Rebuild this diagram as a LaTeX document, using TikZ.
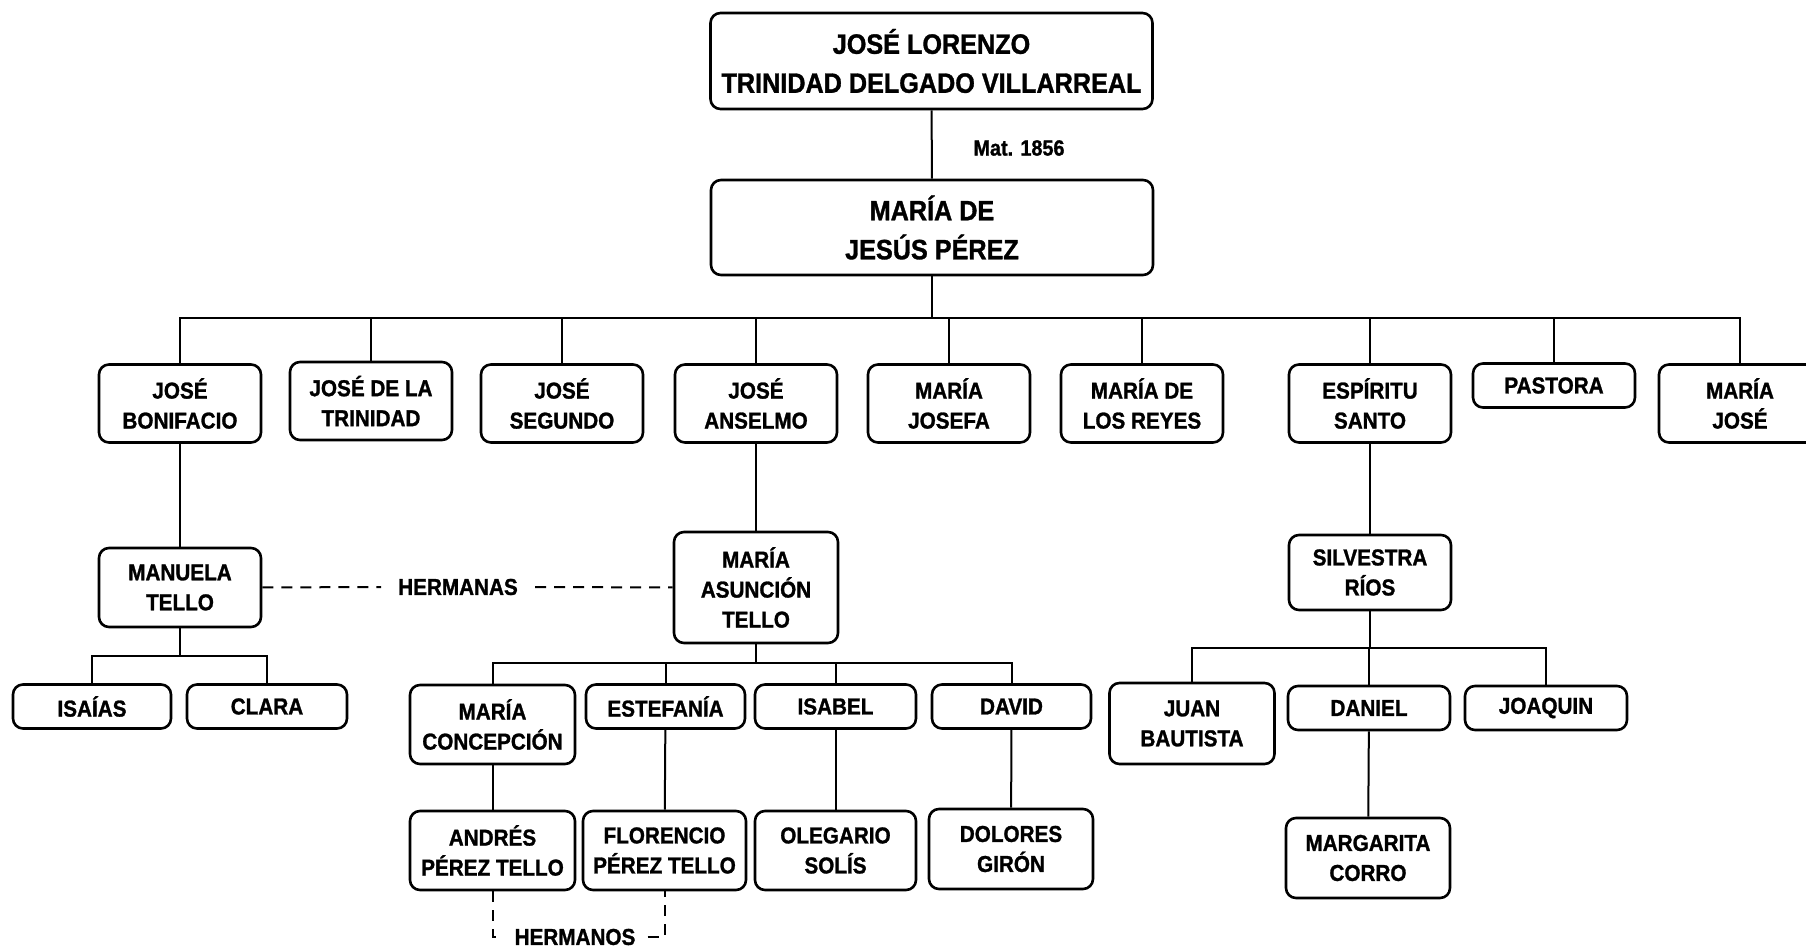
\documentclass[tikz,border=0pt]{standalone}
\usepackage{fontspec}
\setmainfont{Liberation Sans}[FakeStretch=0.9, BoldFeatures={FakeBold=1.2}]
\begin{document}
\begin{tikzpicture}[x=1pt,y=-1pt,
  person/.style={draw, line width=2.6pt, rounded corners=10pt, align=center,
    font=\fontsize{23}{30}\selectfont\bfseries, minimum width=162pt, inner sep=0pt},
  two/.style={minimum height=78pt},
  one/.style={minimum height=44pt},
  three/.style={minimum height=111pt},
  big/.style={font=\fontsize{28}{39}\selectfont\bfseries, minimum width=442pt, minimum height=96pt},
  link/.style={line width=2pt},
  sib/.style={line width=2pt, dash pattern=on 11pt off 8pt},
  lbl/.style={font=\fontsize{23}{28}\selectfont\bfseries, inner ysep=2pt}
]
\useasboundingbox (0,0) rectangle (1806,949);

% generation 0
\node[person,big] (top) at (931.5,61) {JOSÉ LORENZO\\TRINIDAD DELGADO VILLARREAL};
\node[person,big,minimum height=95pt] (mother) at (932,227.5) {MARÍA DE\\JESÚS PÉREZ};
\draw[link] (top) -- (mother);
\node[font=\fontsize{22}{26}\selectfont\bfseries, inner sep=0pt] (mat) at (1019,148) {Mat. 1856};

% generation 1
\coordinate (bar) at (932,318);
\node[person,two] (c1) at (180,403.5) {JOSÉ\\BONIFACIO};
\node[person,two] (c2) at (371,401) {JOSÉ DE LA\\TRINIDAD};
\node[person,two] (c3) at (562,403.5) {JOSÉ\\SEGUNDO};
\node[person,two] (c4) at (756,403.5) {JOSÉ\\ANSELMO};
\node[person,two] (c5) at (949,403.5) {MARÍA\\JOSEFA};
\node[person,two] (c6) at (1142,403.5) {MARÍA DE\\LOS REYES};
\node[person,two] (c7) at (1370,403.5) {ESPÍRITU\\SANTO};
\node[person,one] (c8) at (1554,385.5) {PASTORA};
\node[person,two] (c9) at (1740,403.5) {MARÍA\\JOSÉ};
\foreach \c in {c1,c2,c3,c4,c5,c6,c7,c8,c9}
  \draw[link] (mother.south) -- (mother.south |- bar) -| (\c.north);

% generation 2
\node[person,minimum height=79pt] (manuela) at (180,587.5) {MANUELA\\TELLO};
\node[person,three,minimum width=164pt] (asuncion) at (756,587.5) {MARÍA\\ASUNCIÓN\\TELLO};
\node[person,minimum height=75pt] (silvestra) at (1370,572.5) {SILVESTRA\\RÍOS};
\draw[link] (c1) -- (manuela);
\draw[link] (c4) -- (asuncion);
\draw[link] (c7) -- (silvestra);

\node[lbl, inner xsep=17pt] (hermanas) at (458,587) {HERMANAS};
\draw[sib] (manuela) -- (hermanas) -- (asuncion);

% generation 3
\coordinate (b1) at (0,656);
\coordinate (b2) at (0,663);
\coordinate (b3) at (0,648);
\node[person,one,minimum width=158pt] (isaias) at (92,706.5) {ISAÍAS};
\node[person,one,minimum width=160pt] (clara) at (267,706.5) {CLARA};
\foreach \c in {isaias,clara}
  \draw[link] (manuela.south) -- (manuela.south |- b1) -| (\c.north);

\node[person,minimum height=79pt,minimum width=165pt] (concep) at (492.5,724.5) {MARÍA\\CONCEPCIÓN};
\node[person,one,minimum width=159pt] (estefania) at (665.5,706.5) {ESTEFANÍA};
\node[person,one,minimum width=161pt] (isabel) at (835.5,706.5) {ISABEL};
\node[person,one,minimum width=159pt] (david) at (1011.5,706.5) {DAVID};
\foreach \c in {concep,estefania,isabel,david}
  \draw[link] (asuncion.south) -- (asuncion.south |- b2) -| (\c.north);

\node[person,minimum height=81pt,minimum width=165pt] (juan) at (1192,723.5) {JUAN\\BAUTISTA};
\node[person,one] (daniel) at (1369,708) {DANIEL};
\node[person,one] (joaquin) at (1546,708) {JOAQUIN};
\foreach \c in {juan,daniel,joaquin}
  \draw[link] (silvestra.south) -- (silvestra.south |- b3) -| (\c.north);

% generation 4
\node[person,minimum height=79pt,minimum width=165pt] (andres) at (492.5,850.5) {ANDRÉS\\PÉREZ TELLO};
\node[person,minimum height=79pt,minimum width=163pt] (florencio) at (664.5,850.5) {FLORENCIO\\PÉREZ TELLO};
\node[person,minimum height=79pt,minimum width=161pt] (olegario) at (835.5,850.5) {OLEGARIO\\SOLÍS};
\node[person,minimum height=80pt,minimum width=164pt] (dolores) at (1011,849) {DOLORES\\GIRÓN};
\node[person,minimum height=80pt,minimum width=164pt] (margarita) at (1368,858) {MARGARITA\\CORRO};
\draw[link] (concep) -- (andres);
\draw[link] (estefania) -- (florencio);
\draw[link] (isabel) -- (olegario);
\draw[link] (david) -- (dolores);
\draw[link] (daniel) -- (margarita);

\node[lbl, inner xsep=12pt] (hermanos) at (575,937) {HERMANOS};
\draw[sib] (andres.south) -- (andres.south |- hermanos) -- (hermanos.west);
\draw[sib] (hermanos.east) -- (florencio.south |- hermanos) -- (florencio.south);
\end{tikzpicture}
\end{document}
